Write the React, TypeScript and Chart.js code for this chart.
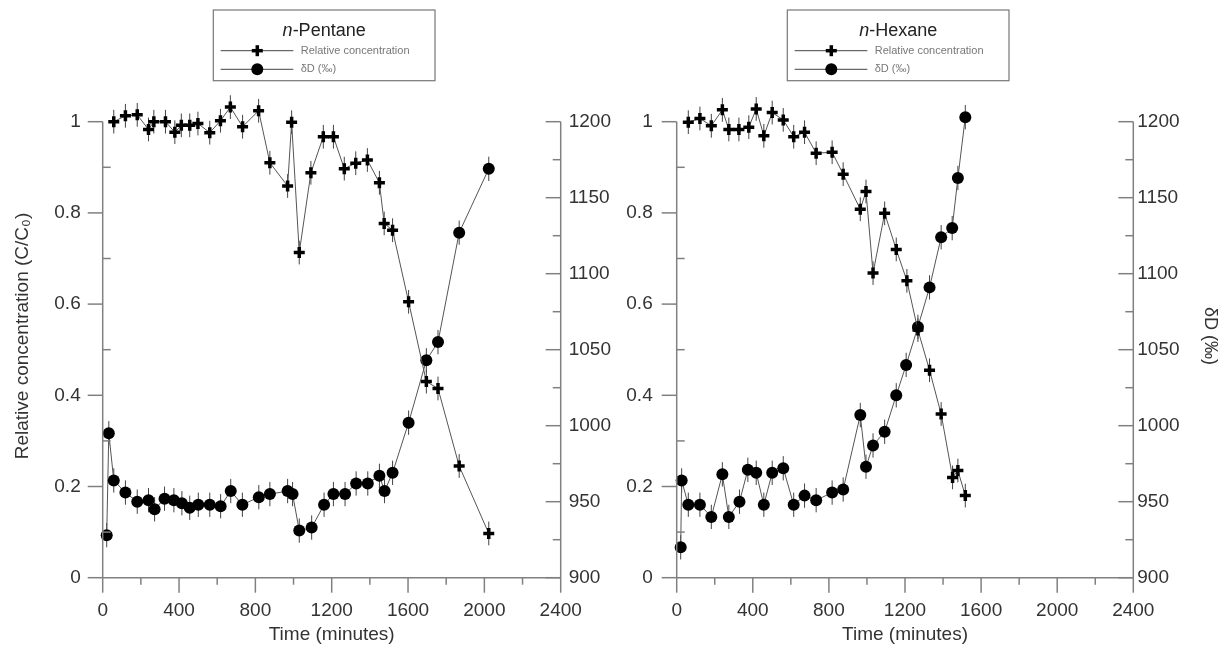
import React, { useEffect, useRef } from 'react';
import { Chart, registerables } from 'chart.js';

Chart.register(...registerables);

// ---------- data ----------
const pentaneConcTime = [58, 119, 181, 240, 268, 329, 378, 412, 456, 499, 561, 617, 669, 733, 817, 876, 969, 990, 1030, 1091, 1156, 1209, 1266, 1326, 1387, 1450, 1475, 1519, 1603, 1696, 1757, 1868, 2023];
const pentaneConc = [1.0, 1.013, 1.015, 0.983, 1.0, 1.0, 0.977, 0.992, 0.992, 0.996, 0.976, 1.002, 1.032, 0.989, 1.024, 0.91, 0.859, 0.999, 0.713, 0.888, 0.967, 0.967, 0.897, 0.909, 0.916, 0.866, 0.777, 0.762, 0.605, 0.43, 0.415, 0.245, 0.097];

const pentaneDDTime = [21, 32, 58, 119, 181, 240, 272, 324, 373, 415, 456, 501, 561, 618, 671, 732, 818, 876, 969, 995, 1030, 1095, 1160, 1209, 1270, 1328, 1389, 1450, 1477, 1519, 1603, 1696, 1757, 1868, 2023];
const pentaneDD = [928, 995, 964, 956, 950, 951, 945, 952, 951, 949, 946, 948, 948, 947, 957, 948, 953, 955, 957, 955, 931, 933, 948, 955, 955, 962, 962, 967, 957, 969, 1002, 1043, 1055, 1127, 1169];

const hexaneConcTime = [61, 122, 182, 240, 274, 327, 379, 418, 458, 502, 560, 615, 672, 733, 817, 875, 965, 995, 1032, 1093, 1154, 1210, 1268, 1329, 1390, 1450, 1478, 1517];
const hexaneConc = [0.999, 1.007, 0.991, 1.026, 0.983, 0.983, 0.988, 1.028, 0.969, 1.02, 1.004, 0.967, 0.977, 0.931, 0.933, 0.885, 0.808, 0.847, 0.668, 0.799, 0.72, 0.651, 0.543, 0.455, 0.359, 0.22, 0.235, 0.18];

const hexaneDDTime = [21, 26, 61, 122, 182, 240, 274, 330, 374, 418, 458, 502, 560, 615, 672, 733, 817, 875, 965, 995, 1032, 1093, 1154, 1206, 1268, 1329, 1390, 1448, 1478, 1517];
const hexaneDD = [920, 964, 948, 948, 940, 968, 940, 950, 971, 969, 948, 969, 972, 948, 954, 951, 956, 958, 1007, 973, 987, 996, 1020, 1040, 1065, 1091, 1124, 1130, 1163, 1203];

const concError = 0.026;
const ddError = 8;

const timeTicks = [0, 400, 800, 1200, 1600, 2000, 2400];
const concTicks = [0, 0.2, 0.4, 0.6, 0.8, 1];
const ddTicks = [900, 950, 1000, 1050, 1100, 1150, 1200];

const FONT = "'Liberation Sans', Arial, sans-serif";
const AXIS_COLOR = '#808080';
const TEXT_COLOR = '#333';

type Cfg = {
  canvasW: number;
  chartLeft: number;
  chartRight: number;
  leftTitle: boolean;
  rightTitle: boolean;
  leftPad: number;
  rightPad: number;
  compound: string;
  boxLeft: number;
  concTime: number[];
  conc: number[];
  ddTime: number[];
  dd: number[];
};

// plot frame: value 1 / 1200 sits at y=121.7, 0 / 900 at y=577.7
const HEAD = 0.06; // headroom above the top tick so markers above 1 still draw
const BOTTOM = 577.7;
const UNIT = 456;
const TOP = BOTTOM - UNIT * (1 + HEAD);
const H = 648;

function line(ctx: CanvasRenderingContext2D, x1: number, y1: number, x2: number, y2: number) {
  ctx.beginPath();
  ctx.moveTo(x1, y1);
  ctx.lineTo(x2, y2);
  ctx.stroke();
}

const errorBarPlugin = {
  id: 'errorBars',
  beforeDatasetsDraw(chart: any) {
    const ctx = chart.ctx;
    ctx.save();
    ctx.strokeStyle = '#444';
    ctx.lineWidth = 1;
    chart.data.datasets.forEach((ds: any, i: number) => {
      const meta = chart.getDatasetMeta(i);
      const scale = chart.scales[ds.yAxisID];
      const err = ds.yAxisID === 'y' ? concError : ddError;
      meta.data.forEach((el: any, j: number) => {
        const v = ds.data[j].y;
        line(ctx, el.x, scale.getPixelForValue(v - err), el.x, scale.getPixelForValue(v + err));
      });
    });
    ctx.restore();
  },
};

const axesPlugin = {
  id: 'customAxes',
  afterDraw(chart: any) {
    const ctx = chart.ctx;
    const { left, right, bottom } = chart.chartArea;
    const xs = chart.scales.x;
    const ys = chart.scales.y;
    const y2 = chart.scales.y2;
    const top = ys.getPixelForValue(concTicks[concTicks.length - 1]);
    ctx.save();
    ctx.strokeStyle = AXIS_COLOR;
    ctx.lineWidth = 1.5;
    line(ctx, left, top, left, bottom);
    line(ctx, right, top, right, bottom);
    line(ctx, left, bottom, right, bottom);
    timeTicks.forEach((v, i) => {
      const px = xs.getPixelForValue(v);
      line(ctx, px, bottom, px, bottom + 15);
      if (i < timeTicks.length - 1) {
        const mx = xs.getPixelForValue((v + timeTicks[i + 1]) / 2);
        line(ctx, mx, bottom, mx, bottom + 7);
      }
    });
    concTicks.forEach((v, i) => {
      const py = ys.getPixelForValue(v);
      line(ctx, left - 15, py, left, py);
      if (i < concTicks.length - 1) {
        const my = ys.getPixelForValue((v + concTicks[i + 1]) / 2);
        line(ctx, left, my, left + 8, my);
      }
    });
    ddTicks.forEach((v, i) => {
      const py = y2.getPixelForValue(v);
      line(ctx, right - 15, py, right, py);
      if (i < ddTicks.length - 1) {
        const my = y2.getPixelForValue((v + ddTicks[i + 1]) / 2);
        line(ctx, right - 8, my, right, my);
      }
    });
    ctx.restore();
  },
};

const legendBoxPlugin = {
  id: 'legendBox',
  afterDraw(chart: any) {
    const o = chart.options.plugins.legendBox;
    if (!o) return;
    const ctx = chart.ctx;
    const bx = o.boxLeft;
    const by = 10;
    const bw = 221.7;
    const bh = 70.7;
    ctx.save();
    ctx.fillStyle = '#fff';
    ctx.fillRect(bx, by, bw, bh);
    ctx.strokeStyle = '#777';
    ctx.lineWidth = 1.2;
    ctx.strokeRect(bx, by, bw, bh);
    ctx.textBaseline = 'middle';
    ctx.fillStyle = '#222';
    const italicFont = `italic 18px ${FONT}`;
    const normalFont = `18px ${FONT}`;
    ctx.font = italicFont;
    const w1 = ctx.measureText('n').width;
    ctx.font = normalFont;
    const rest = '-' + o.compound;
    const w2 = ctx.measureText(rest).width;
    const cx = bx + bw / 2;
    const tx = cx - (w1 + w2) / 2;
    ctx.textAlign = 'left';
    ctx.font = italicFont;
    ctx.fillText('n', tx, by + 21);
    ctx.font = normalFont;
    ctx.fillText(rest, tx + w1, by + 21);
    const rows = [
      { y: by + 40.7, label: 'Relative concentration', marker: 'cross' },
      { y: by + 59.3, label: 'δD (‰)', marker: 'circle' },
    ];
    rows.forEach((r) => {
      ctx.strokeStyle = '#444';
      ctx.lineWidth = 1;
      line(ctx, bx + 7.4, r.y, bx + 80, r.y);
      const mx = bx + 44;
      ctx.fillStyle = '#000';
      ctx.strokeStyle = '#000';
      if (r.marker === 'cross') {
        ctx.lineWidth = 3.5;
        line(ctx, mx - 5.5, r.y, mx + 5.5, r.y);
        line(ctx, mx, r.y - 5.5, mx, r.y + 5.5);
      } else {
        ctx.beginPath();
        ctx.arc(mx, r.y, 6, 0, Math.PI * 2);
        ctx.fill();
      }
      ctx.fillStyle = '#777';
      ctx.font = `11px ${FONT}`;
      ctx.fillText(r.label, bx + 87.4, r.y);
    });
    ctx.restore();
  },
};

function makeConfig(c: Cfg): any {
  const tickFont = { family: FONT, size: 19 };
  return {
    type: 'line',
    data: {
      datasets: [
        {
          label: 'Relative concentration',
          data: c.concTime.map((t, i) => ({ x: t, y: c.conc[i] })),
          yAxisID: 'y',
          borderColor: '#555',
          borderWidth: 1,
          pointStyle: 'cross',
          pointRadius: 5.5,
          pointBorderWidth: 3.5,
          pointBorderColor: '#000',
          pointBackgroundColor: '#000',
          clip: false,
          tension: 0,
        },
        {
          label: 'δD (‰)',
          data: c.ddTime.map((t, i) => ({ x: t, y: c.dd[i] })),
          yAxisID: 'y2',
          borderColor: '#555',
          borderWidth: 1,
          pointStyle: 'circle',
          pointRadius: 6,
          pointBorderWidth: 0,
          pointBorderColor: '#000',
          pointBackgroundColor: '#000',
          clip: false,
          tension: 0,
        },
      ],
    },
    options: {
      animation: false,
      responsive: false,
      devicePixelRatio: 1,
      events: [],
      layout: { padding: { top: TOP, left: 0, right: 0, bottom: 0 } },
      plugins: {
        legend: { display: false },
        tooltip: { enabled: false },
        legendBox: { boxLeft: c.boxLeft, compound: c.compound },
      },
      scales: {
        x: {
          type: 'linear',
          position: 'bottom',
          min: 0,
          max: 2400,
          afterBuildTicks: (s: any) => {
            s.ticks = timeTicks.map((v) => ({ value: v }));
          },
          afterFit: (s: any) => {
            s.height = H - BOTTOM;
          },
          grid: { display: false, drawTicks: false },
          border: { display: false },
          ticks: {
            font: tickFont,
            color: TEXT_COLOR,
            padding: 22,
            maxRotation: 0,
            autoSkip: false,
            callback: (v: any) => String(v),
          },
          title: {
            display: true,
            text: 'Time (minutes)',
            font: { family: FONT, size: 19, lineHeight: 1.2 },
            color: TEXT_COLOR,
            padding: { top: 0, bottom: 2 },
          },
        },
        y: {
          type: 'linear',
          position: 'left',
          min: 0,
          max: 1 + HEAD,
          afterBuildTicks: (s: any) => {
            s.ticks = concTicks.map((v) => ({ value: v }));
          },
          afterFit: (s: any) => {
            s.width = c.chartLeft;
          },
          grid: { display: false, drawTicks: false },
          border: { display: false },
          ticks: {
            font: tickFont,
            color: TEXT_COLOR,
            padding: c.leftPad,
            callback: (v: any) => String(Math.round(v * 10) / 10),
          },
          title: {
            display: c.leftTitle,
            text: 'Relative concentration (C/C\u2080)',
            font: { family: FONT, size: 19, lineHeight: 1.2 },
            color: TEXT_COLOR,
            padding: { top: 11, bottom: 0 },
          },
        },
        y2: {
          type: 'linear',
          position: 'right',
          min: 900,
          max: 1200 + 300 * HEAD,
          afterBuildTicks: (s: any) => {
            s.ticks = ddTicks.map((v) => ({ value: v }));
          },
          afterFit: (s: any) => {
            s.width = c.canvasW - c.chartRight;
          },
          grid: { display: false, drawTicks: false },
          border: { display: false },
          ticks: {
            font: tickFont,
            color: TEXT_COLOR,
            padding: c.rightPad,
            callback: (v: any) => String(v),
          },
          title: {
            display: c.rightTitle,
            text: 'δD (‰)',
            font: { family: FONT, size: 18, lineHeight: 1 },
            color: TEXT_COLOR,
            padding: { top: 0, bottom: 0 },
          },
        },
      },
    },
    plugins: [errorBarPlugin, axesPlugin, legendBoxPlugin],
  };
}

function Panel({ cfg, left }: { cfg: Cfg; left: number }) {
  const ref = useRef<HTMLCanvasElement | null>(null);
  useEffect(() => {
    if (!ref.current) return;
    const chart = new Chart(ref.current, makeConfig(cfg));
    return () => chart.destroy();
  }, []);
  return (
    <canvas
      ref={ref}
      width={cfg.canvasW}
      height={H}
      style={{ position: 'absolute', left, top: 0, width: cfg.canvasW, height: H }}
    />
  );
}

const leftCfg: Cfg = {
  canvasW: 620,
  chartLeft: 102.7,
  chartRight: 560.7,
  leftTitle: true,
  rightTitle: false,
  leftPad: 22,
  rightPad: 8,
  compound: 'Pentane',
  boxLeft: 213.3,
  concTime: pentaneConcTime,
  conc: pentaneConc,
  ddTime: pentaneDDTime,
  dd: pentaneDD,
};

const rightCfg: Cfg = {
  canvasW: 619,
  chartLeft: 76.7,
  chartRight: 533.3,
  leftTitle: false,
  rightTitle: true,
  leftPad: 24,
  rightPad: 4,
  compound: 'Hexane',
  boxLeft: 187.3,
  concTime: hexaneConcTime,
  conc: hexaneConc,
  ddTime: hexaneDDTime,
  dd: hexaneDD,
};

export default function App() {
  return (
    <div style={{ position: 'fixed', left: 0, top: 0, width: 1219, height: 648, background: '#fff' }}>
      <Panel cfg={leftCfg} left={0} />
      <Panel cfg={rightCfg} left={600} />
    </div>
  );
}
